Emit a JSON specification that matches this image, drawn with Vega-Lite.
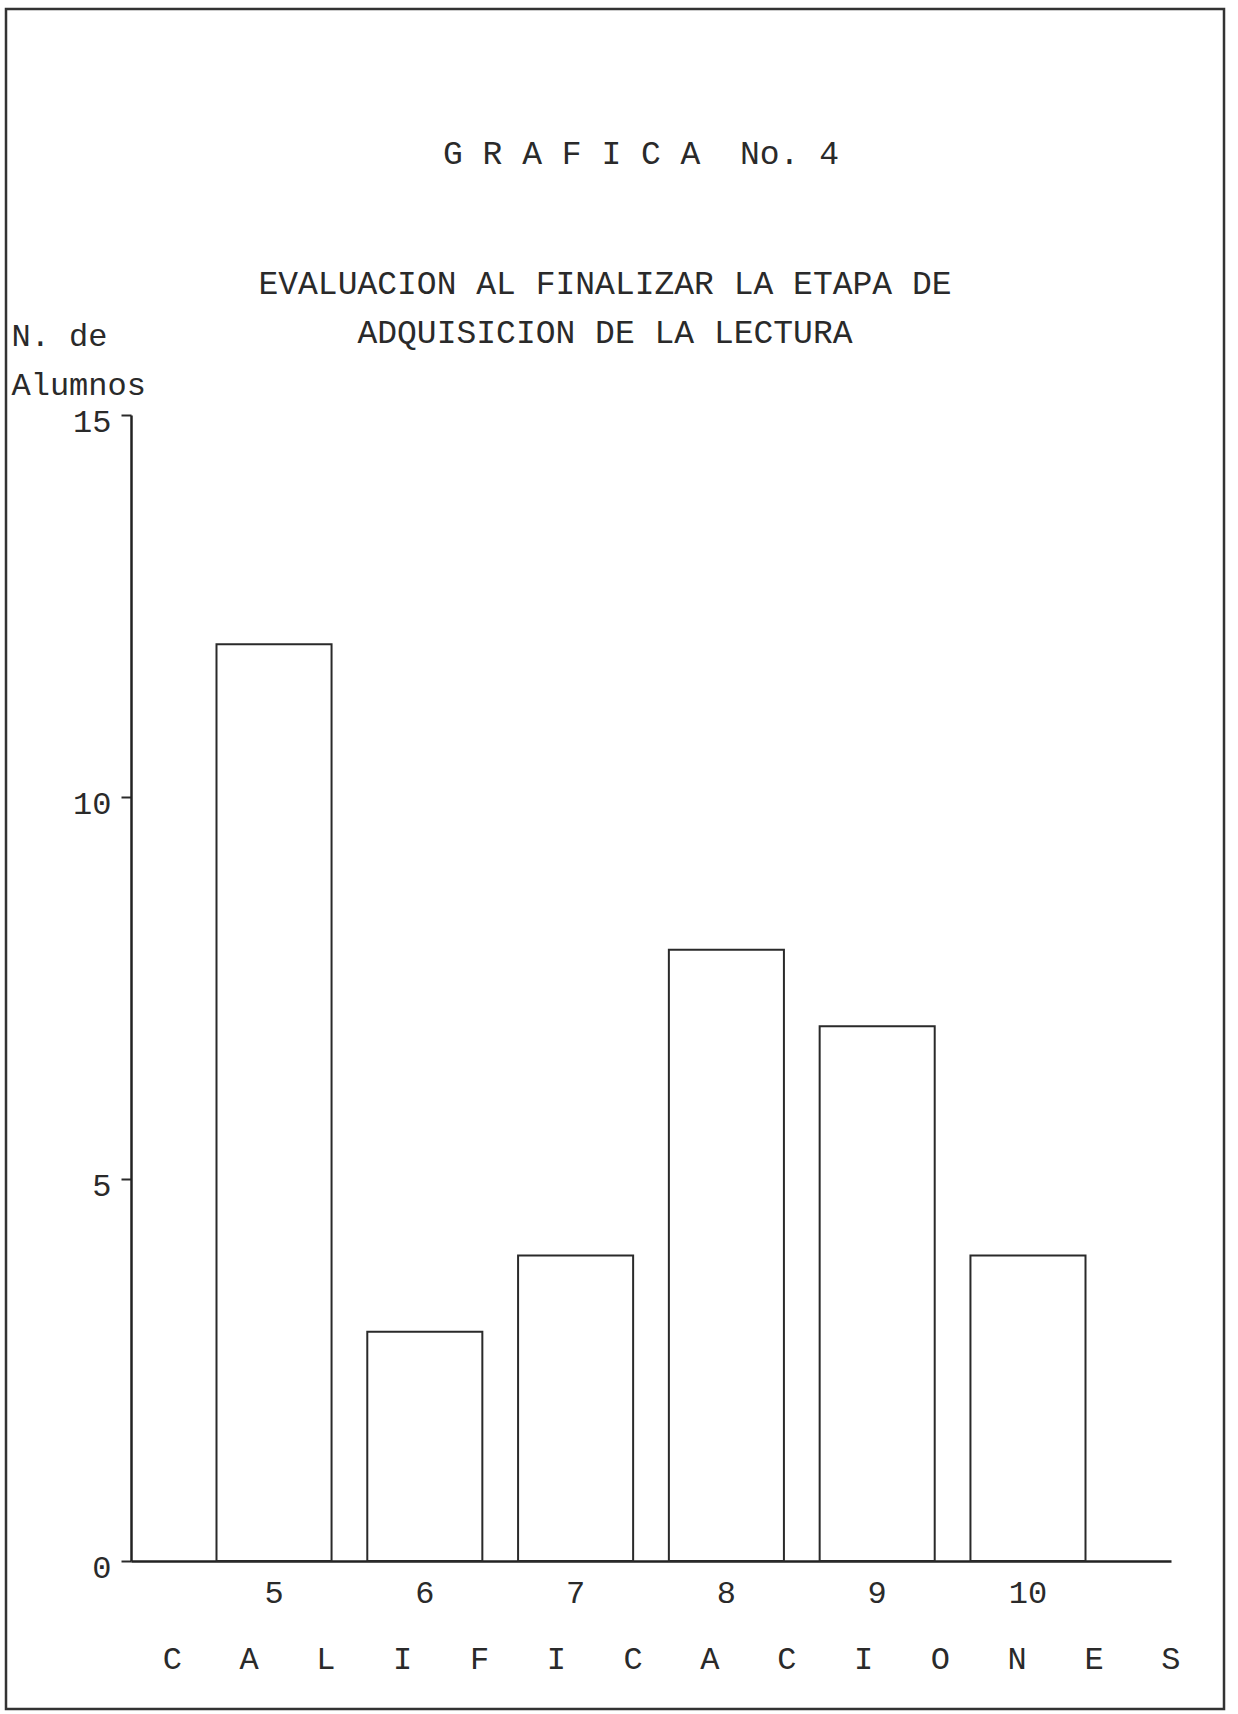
{
  "$schema": "https://vega.github.io/schema/vega-lite/v6.json",
  "autosize": {"type": "none"},
  "width": 1218,
  "height": 1700,
  "padding": {"left": 6, "top": 9, "right": 14, "bottom": 5},
  "background": "white",
  "config": {
    "view": {"stroke": "#333333", "strokeWidth": 2.5},
    "font": "Liberation Mono"
  },
  "title": {
    "text": "\u2800\u2800\u2800G\u00a0R\u00a0A\u00a0F\u00a0I\u00a0C\u00a0A\u00a0\u00a0No.\u00a04",
    "subtitle": ["EVALUACION AL FINALIZAR LA ETAPA DE", "ADQUISICION DE LA LECTURA"],
    "orient": "top",
    "frame": "group",
    "anchor": "middle",
    "offset": -341,
    "font": "Liberation Mono",
    "fontSize": 33,
    "fontWeight": "normal",
    "color": "#2a2a2a",
    "subtitleFont": "Liberation Mono",
    "subtitleFontSize": 33,
    "subtitleColor": "#2a2a2a",
    "subtitlePadding": 97,
    "subtitleLineHeight": 49,
    "dx": -10
  },
  "data": {
    "values": [
      {"calificacion": "5", "alumnos": 12},
      {"calificacion": "6", "alumnos": 3},
      {"calificacion": "7", "alumnos": 4},
      {"calificacion": "8", "alumnos": 8},
      {"calificacion": "9", "alumnos": 7},
      {"calificacion": "10", "alumnos": 4}
    ]
  },
  "mark": {"type": "bar", "fill": "white", "stroke": "#2a2a2a", "strokeWidth": 2},
  "encoding": {
    "x": {
      "field": "calificacion",
      "type": "ordinal",
      "sort": null,
      "scale": {"range": [125, 1165], "paddingInner": 0.237, "paddingOuter": 0.567},
      "axis": {
        "orient": "bottom",
        "offset": -148,
        "labelAngle": 0,
        "ticks": false,
        "tickSize": 0,
        "labelPadding": 31,
        "labelBaseline": "middle",
        "labelFont": "Liberation Mono",
        "labelFontSize": 32,
        "labelColor": "#2a2a2a",
        "domainColor": "#222222",
        "domainWidth": 2.5,
        "title": "C\u00a0\u00a0\u00a0A\u00a0\u00a0\u00a0L\u00a0\u00a0\u00a0I\u00a0\u00a0\u00a0F\u00a0\u00a0\u00a0I\u00a0\u00a0\u00a0C\u00a0\u00a0\u00a0A\u00a0\u00a0\u00a0C\u00a0\u00a0\u00a0I\u00a0\u00a0\u00a0O\u00a0\u00a0\u00a0N\u00a0\u00a0\u00a0E\u00a0\u00a0\u00a0S",
        "titleFont": "Liberation Mono",
        "titleFontSize": 32,
        "titleFontWeight": "normal",
        "titleColor": "#2a2a2a",
        "titleX": 665,
        "titleY": 97,
        "titleAlign": "center",
        "titleBaseline": "middle",
        "grid": false
      }
    },
    "y": {
      "field": "alumnos",
      "type": "quantitative",
      "scale": {"domain": [0, 15], "range": [1552, 406], "nice": false, "zero": true},
      "axis": {
        "orient": "left",
        "offset": -125,
        "values": [0, 5, 10, 15],
        "tickSize": 10,
        "tickColor": "#2a2a2a",
        "tickWidth": 2,
        "labelPadding": 10,
        "labelOffset": 6,
        "labelFont": "Liberation Mono",
        "labelFontSize": 32,
        "labelColor": "#2a2a2a",
        "labelBaseline": "middle",
        "domainColor": "#222222",
        "domainWidth": 2.5,
        "grid": false,
        "title": ["N. de", "Alumnos"],
        "titleAngle": 0,
        "titleAlign": "left",
        "titleBaseline": "alphabetic",
        "titleX": -120,
        "titleY": 336,
        "titleLineHeight": 49,
        "titleFont": "Liberation Mono",
        "titleFontSize": 32,
        "titleFontWeight": "normal",
        "titleColor": "#2a2a2a"
      }
    }
  }
}
